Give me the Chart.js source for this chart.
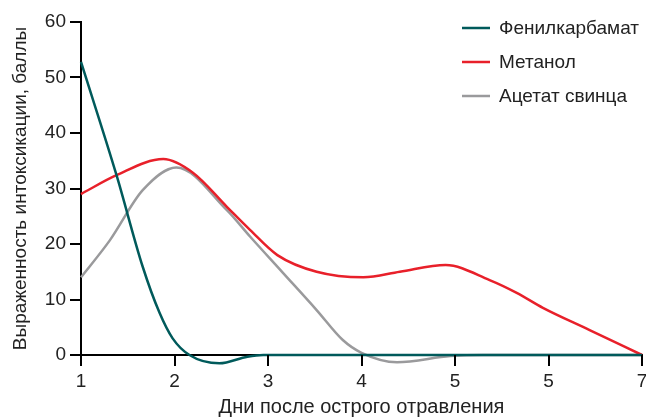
<!DOCTYPE html>
<html>
<head>
<meta charset="utf-8">
<script src="https://cdn.jsdelivr.net/npm/chart.js@4/dist/chart.umd.min.js"></script>
<style>
  html, body { margin: 0; padding: 0; background: #fff; }
  #wrap { width: 646px; height: 419px; position: relative; }
</style>
</head>
<body>
<div id="wrap"><canvas id="chart"></canvas></div>
<script>
// --- DATA ---
const xLabels = ['1', '2', '3', '4', '5', '5', '7'];
const yTicks = [0, 10, 20, 30, 40, 50, 60];

const seriesNames = ['Фенилкарбамат', 'Метанол', 'Ацетат свинца'];
const seriesColors = ['#005a5b', '#e8202a', '#9a9a9c'];

// days after poisoning (x) and score (y)
const phenylX = [1, 1.38, 1.66, 1.84, 1.98, 2.16, 2.48, 2.78, 2.95, 4, 5, 6, 7];
const phenylY = [52.8, 32.4, 15.9, 7.6, 3.0, 0, -1.5, -0.3, 0, 0, 0, 0, 0];

const methanolX = [1, 1.38, 1.88, 2.2, 2.56, 2.81, 3.1, 3.52, 4.02, 4.41, 4.9, 5.37, 5.66, 5.94, 6.44, 7];
const methanolY = [29.0, 32.4, 35.3, 32.8, 26.7, 22.5, 18.0, 15.0, 14.0, 15.0, 16.2, 13.5, 11.2, 8.5, 4.5, 0];

const leadX = [1, 1.31, 1.66, 2.02, 2.56, 2.81, 3.16, 3.52, 3.80, 4.0, 4.38, 4.95, 5.3, 6, 7];
const leadY = [14.0, 20.7, 29.7, 33.8, 26.1, 21.3, 14.8, 8.1, 2.7, 0.4, -1.3, -0.2, 0, 0, 0];

const FONT = '"Liberation Sans", Arial, sans-serif';
const toPoints = (xs, ys) => xs.map((x, i) => ({ x: x, y: ys[i] }));

// tick marks + legend in the top right corner
const extrasPlugin = {
    id: 'extras',
    afterDraw(chart) {
        const ctx = chart.ctx;
        const xs = chart.scales.x, ys = chart.scales.y;
        const area = chart.chartArea;
        ctx.save();
        ctx.fillStyle = '#000';
        xs.ticks.forEach(t => {
            const px = Math.round(xs.getPixelForValue(t.value));
            ctx.fillRect(px - 1, area.bottom, 2, 11);
        });
        ys.ticks.forEach(t => {
            const py = Math.round(ys.getPixelForValue(t.value));
            ctx.fillRect(area.left - 11, py - 1, 11, 2);
        });

        ctx.font = '19px ' + FONT;
        ctx.textBaseline = 'middle';
        chart.data.datasets.forEach((ds, i) => {
            const y = 28 + i * 34;
            ctx.strokeStyle = ds.borderColor;
            ctx.lineWidth = 2.5;
            ctx.beginPath();
            ctx.moveTo(462, y);
            ctx.lineTo(490, y);
            ctx.stroke();
            ctx.fillStyle = '#222';
            ctx.fillText(ds.label, 499, y + 1);
        });
        ctx.restore();
    }
};

const mkSet = (i, xs, ys) => ({
    label: seriesNames[i],
    data: toPoints(xs, ys),
    borderColor: seriesColors[i],
    backgroundColor: seriesColors[i],
    borderWidth: 2.5,
    pointRadius: 0,
    cubicInterpolationMode: 'monotone',
    clip: false,
    fill: false
});

new Chart(document.getElementById('chart'), {
    type: 'line',
    data: {
        datasets: [
            mkSet(0, phenylX, phenylY),
            mkSet(1, methanolX, methanolY),
            mkSet(2, leadX, leadY)
        ]
    },
    options: {
        responsive: true,
        maintainAspectRatio: false,
        animation: false,
        layout: { padding: { top: 22, right: 4, left: 0, bottom: 0 } },
        plugins: { legend: { display: false }, tooltip: { enabled: false } },
        scales: {
            x: {
                type: 'linear',
                min: 1,
                max: 7,
                afterBuildTicks: (axis) => { axis.ticks = xLabels.map((l, i) => ({ value: i + 1 })); },
                afterFit: (axis) => { axis.height = 64; axis.paddingLeft = 0; axis.paddingRight = 0; },
                grid: { display: false, drawTicks: false },
                border: { color: '#000', width: 2 },
                ticks: {
                    color: '#222',
                    padding: 15,
                    font: { family: FONT, size: 19 },
                    callback: (v) => xLabels[Math.round(v) - 1],
                    maxRotation: 0
                },
                title: {
                    display: true,
                    text: 'Дни после острого отравления',
                    color: '#222',
                    padding: { top: 0, bottom: 0 },
                    font: { family: FONT, size: 20 }
                }
            },
            y: {
                min: 0,
                max: 60,
                afterBuildTicks: (axis) => { axis.ticks = yTicks.map(v => ({ value: v })); },
                afterFit: (axis) => { axis.width = 81; axis.paddingTop = 0; axis.paddingBottom = 0; },
                grid: { display: false, drawTicks: false },
                border: { color: '#000', width: 2 },
                ticks: {
                    color: '#222',
                    padding: 15,
                    font: { family: FONT, size: 19 }
                },
                title: {
                    display: true,
                    text: 'Выраженность интоксикации, баллы',
                    color: '#222',
                    padding: { top: 9, bottom: 0 },
                    font: { family: FONT, size: 19 }
                }
            }
        }
    },
    plugins: [extrasPlugin]
});
</script>
</body>
</html>
